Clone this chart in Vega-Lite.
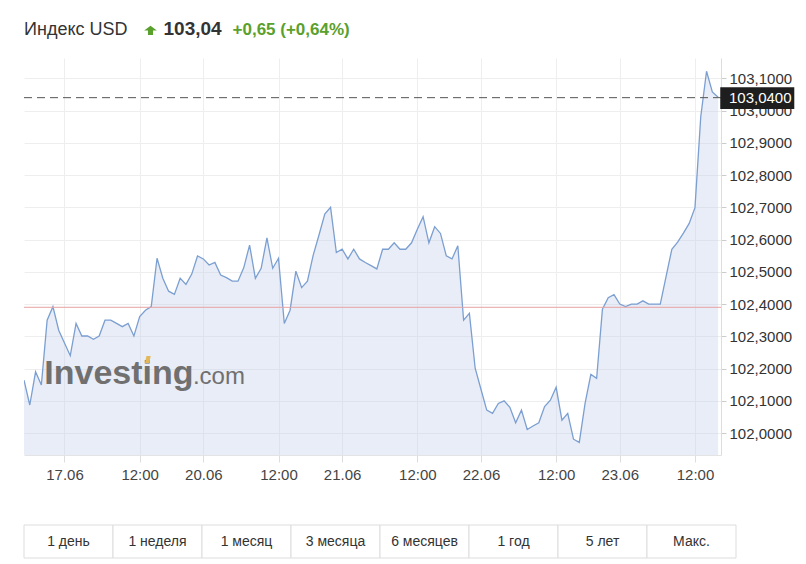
{
  "$schema": "https://vega.github.io/schema/vega-lite/v6.json",
  "background": "white",
  "padding": {"left": 23, "top": 20, "right": 0, "bottom": 0},
  "spacing": 42,
  "config": {"view": {"stroke": null}, "font": "Liberation Sans"},
  "vconcat": [
    {
      "width": 697,
      "height": 397,
      "layer": [
        {
          "data": {"values": [
            {"i":0,"v":102.164},{"i":1,"v":102.087},{"i":2,"v":102.190},{"i":3,"v":102.149},{"i":4,"v":102.350},
            {"i":5,"v":102.392},{"i":6,"v":102.319},{"i":7,"v":102.279},{"i":8,"v":102.240},{"i":9,"v":102.340},
            {"i":10,"v":102.301},{"i":11,"v":102.301},{"i":12,"v":102.291},{"i":13,"v":102.301},{"i":14,"v":102.350},
            {"i":15,"v":102.350},{"i":16,"v":102.340},{"i":17,"v":102.330},{"i":18,"v":102.340},{"i":19,"v":102.301},
            {"i":20,"v":102.361},{"i":21,"v":102.381},{"i":22,"v":102.392},{"i":23,"v":102.542},{"i":24,"v":102.480},
            {"i":25,"v":102.440},{"i":26,"v":102.430},{"i":27,"v":102.480},{"i":28,"v":102.461},{"i":29,"v":102.493},
            {"i":30,"v":102.549},{"i":31,"v":102.540},{"i":32,"v":102.521},{"i":33,"v":102.529},{"i":34,"v":102.490},
            {"i":35,"v":102.482},{"i":36,"v":102.471},{"i":37,"v":102.471},{"i":38,"v":102.513},{"i":39,"v":102.583},
            {"i":40,"v":102.480},{"i":41,"v":102.511},{"i":42,"v":102.605},{"i":43,"v":102.511},{"i":44,"v":102.542},
            {"i":45,"v":102.340},{"i":46,"v":102.381},{"i":47,"v":102.502},{"i":48,"v":102.451},{"i":49,"v":102.471},
            {"i":50,"v":102.552},{"i":51,"v":102.614},{"i":52,"v":102.679},{"i":53,"v":102.700},{"i":54,"v":102.560},
            {"i":55,"v":102.570},{"i":56,"v":102.540},{"i":57,"v":102.570},{"i":58,"v":102.540},{"i":59,"v":102.529},
            {"i":60,"v":102.519},{"i":61,"v":102.509},{"i":62,"v":102.570},{"i":63,"v":102.570},{"i":64,"v":102.590},
            {"i":65,"v":102.570},{"i":66,"v":102.570},{"i":67,"v":102.590},{"i":68,"v":102.632},{"i":69,"v":102.671},
            {"i":70,"v":102.590},{"i":71,"v":102.640},{"i":72,"v":102.619},{"i":73,"v":102.550},{"i":74,"v":102.540},
            {"i":75,"v":102.581},{"i":76,"v":102.350},{"i":77,"v":102.371},{"i":78,"v":102.201},{"i":79,"v":102.136},
            {"i":80,"v":102.071},{"i":81,"v":102.061},{"i":82,"v":102.092},{"i":83,"v":102.100},{"i":84,"v":102.080},
            {"i":85,"v":102.032},{"i":86,"v":102.071},{"i":87,"v":102.011},{"i":88,"v":102.022},{"i":89,"v":102.032},
            {"i":90,"v":102.082},{"i":91,"v":102.102},{"i":92,"v":102.142},{"i":93,"v":102.040},{"i":94,"v":102.061},
            {"i":95,"v":101.981},{"i":96,"v":101.971},{"i":97,"v":102.092},{"i":98,"v":102.182},{"i":99,"v":102.170},
            {"i":100,"v":102.384},{"i":101,"v":102.420},{"i":102,"v":102.429},{"i":103,"v":102.400},{"i":104,"v":102.392},
            {"i":105,"v":102.400},{"i":106,"v":102.400},{"i":107,"v":102.410},{"i":108,"v":102.400},{"i":109,"v":102.400},
            {"i":110,"v":102.400},{"i":111,"v":102.485},{"i":112,"v":102.570},{"i":113,"v":102.592},{"i":114,"v":102.620},
            {"i":115,"v":102.650},{"i":116,"v":102.699},{"i":117,"v":102.981},{"i":118,"v":103.122},{"i":119,"v":103.058},
            {"i":120,"v":103.041}
          ]},
          "mark": {"type": "area", "clip": true, "fill": "#c3cfe9", "fillOpacity": 0.37, "opacity": 1,
                   "line": {"color": "#7b9fd1", "strokeWidth": 1.3}},
          "encoding": {
            "x": {"field": "i", "type": "quantitative",
                  "scale": {"domain": [0, 120.5], "nice": false, "zero": false},
                  "axis": {"title": null, "values": [7,20,31,44,55,68,79,92,103,116], "tickCount": 30,
                           "labelExpr": "['17.06','12:00','20.06','12:00','21.06','12:00','22.06','12:00','23.06','12:00'][indexof([7,20,31,44,55,68,79,92,103,116], datum.value)]",
                           "grid": true, "gridColor": "#eeeeee", "tickColor": "#dddddd", "tickSize": 7,
                           "domainColor": "#e4e4e4", "labelFontSize": 15, "labelColor": "#444444",
                           "labelPadding": 5, "labelFlush": false, "labelOverlap": false}},
            "y": {"field": "v", "type": "quantitative",
                  "scale": {"domain": [101.932, 103.163], "nice": false, "zero": false},
                  "axis": {"orient": "right", "title": null, "tickCount": 30,
                           "values": [102.0,102.1,102.2,102.3,102.4,102.5,102.6,102.7,102.8,102.9,103.0,103.1],
                           "labelExpr": "replace(format(datum.value, '.4f'), '.', ',')",
                           "grid": true, "gridColor": "#eeeeee", "tickColor": "#cccccc", "tickSize": 5,
                           "domainColor": "#dddddd", "labelFontSize": 15, "labelColor": "#333333",
                           "labelPadding": 3, "labelFlush": false, "labelOverlap": false}}
          }
        },
        {
          "data": {"values": [{"close": 102.39}]},
          "mark": {"type": "rule", "color": "#e8a3a3", "strokeWidth": 1},
          "encoding": {"y": {"field": "close", "type": "quantitative"}}
        },
        {
          "data": {"values": [{"last": 103.04}]},
          "mark": {"type": "rule", "color": "#555555", "strokeWidth": 1, "strokeDash": [8, 5]},
          "encoding": {"y": {"field": "last", "type": "quantitative"}}
        },
        {
          "data": {"values": [{}]},
          "mark": {"type": "text", "text": "Investing", "fontSize": 34, "fontWeight": "bold", "color": "#707070", "align": "left", "baseline": "alphabetic"},
          "encoding": {"x": {"datum": 3.51}, "y": {"datum": 102.1512}}
        },
        {
          "data": {"values": [{}]},
          "mark": {"type": "text", "text": ".com", "fontSize": 24, "color": "#707070", "align": "left", "baseline": "alphabetic"},
          "encoding": {"x": {"datum": 29.2}, "y": {"datum": 102.1512}}
        },
        {
          "data": {"values": [{}]},
          "mark": {"type": "point", "filled": true, "color": "#e3b85a", "opacity": 1, "size": 50, "shape": "M-0.7,1L-0.3,-1L0.9,-1L0.5,1Z"},
          "encoding": {"x": {"datum": 21.35}, "y": {"datum": 102.2281}}
        },
        {
          "data": {"values": [{}]},
          "mark": {"type": "rect", "color": "#1e1e1e"},
          "encoding": {"x": {"datum": 120.37}, "x2": {"datum": 133.17}, "y": {"datum": 103.0721}, "y2": {"datum": 103.0049}}
        },
        {
          "data": {"values": [{}]},
          "mark": {"type": "text", "text": "103,0400", "fontSize": 15, "color": "white", "align": "left", "baseline": "middle"},
          "encoding": {"x": {"datum": 121.88}, "y": {"datum": 103.039}}
        },
        {
          "data": {"values": [{}]},
          "mark": {"type": "text", "text": "Индекс USD", "fontSize": 18, "color": "#333333", "align": "left", "baseline": "alphabetic"},
          "encoding": {"x": {"datum": 0}, "y": {"datum": 103.2341}}
        },
        {
          "data": {"values": [{}]},
          "mark": {"type": "point", "filled": true, "color": "#5aa02c", "opacity": 1, "size": 160, "shape": "M0,-0.75L1,0L0.4,0L0.4,0.72L-0.4,0.72L-0.4,0L-1,0Z"},
          "encoding": {"x": {"datum": 21.87}, "y": {"datum": 103.2483}}
        },
        {
          "data": {"values": [{}]},
          "mark": {"type": "text", "text": "103,04", "fontSize": 19, "fontWeight": "bold", "color": "#333333", "align": "left", "baseline": "alphabetic"},
          "encoding": {"x": {"datum": 24.12}, "y": {"datum": 103.2341}}
        },
        {
          "data": {"values": [{}]},
          "mark": {"type": "text", "text": "+0,65 (+0,64%)", "fontSize": 17, "fontWeight": "bold", "color": "#5aa02c", "align": "left", "baseline": "alphabetic"},
          "encoding": {"x": {"datum": 36.05}, "y": {"datum": 103.2341}}
        }
      ]
    },
    {
      "width": 712,
      "height": 33,
      "data": {"values": [
        {"period": "1 день"}, {"period": "1 неделя"}, {"period": "1 месяц"}, {"period": "3 месяца"},
        {"period": "6 месяцев"}, {"period": "1 год"}, {"period": "5 лет"}, {"period": "Макс."}
      ]},
      "encoding": {
        "x": {"field": "period", "type": "nominal", "sort": null,
              "scale": {"paddingInner": 0, "paddingOuter": 0}, "axis": null}
      },
      "layer": [
        {"mark": {"type": "rect", "fill": "white", "stroke": "#dddddd", "strokeWidth": 1}},
        {"mark": {"type": "text", "fontSize": 14, "color": "#333333", "baseline": "middle"},
         "encoding": {"text": {"field": "period"}}}
      ]
    }
  ]
}
